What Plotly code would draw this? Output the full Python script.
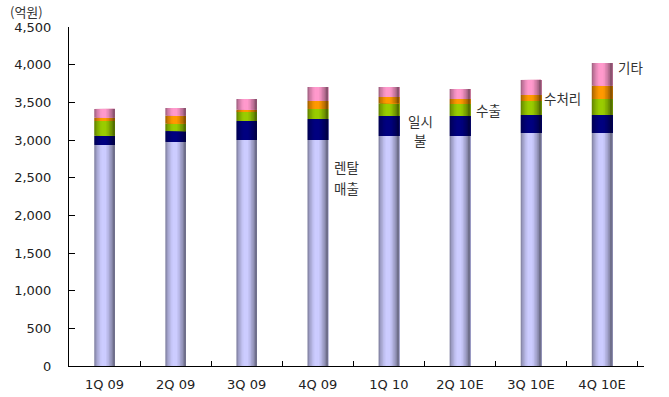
import plotly.graph_objects as go

# Quarterly revenue breakdown (unit: 100M KRW)
quarters = ["1Q 09", "2Q 09", "3Q 09", "4Q 09", "1Q 10", "2Q 10E", "3Q 10E", "4Q 10E"]
rental = [2934, 2974, 3000, 3000, 3053, 3053, 3093, 3093]
lump_sum = [123, 145, 252, 279, 266, 266, 239, 239]
export = [195, 98, 124, 133, 168, 159, 186, 212]
water = [44, 106, 26, 106, 84, 66, 80, 177]
others = [116, 102, 142, 186, 133, 133, 199, 301]

series = [
    ("렌탈매출", rental, (204, 204, 255)),
    ("일시불", lump_sum, (0, 0, 128)),
    ("수출", export, (153, 204, 0)),
    ("수처리", water, (255, 153, 0)),
    ("기타", others, (255, 153, 204)),
]

BAR_W = 0.29      # bar width in category units
N_STRIPS = 14     # vertical strips used to shade each bar like a cylinder


def shade(t):
    """Brightness factor across the bar width (0 = left edge, 1 = right edge)."""
    if t < 0.35:
        return 0.55 + 0.45 * (t / 0.35) ** 0.6
    if t < 0.55:
        return 1.0
    return 1.0 - 0.5 * ((t - 0.55) / 0.45) ** 1.2


def rgb(c, f):
    return "rgb({},{},{})".format(*[int(round(v * f)) for v in c])


fig = go.Figure()
bases = [0] * len(quarters)
for name, vals, col in series:
    for i in range(N_STRIPS):
        t = (i + 0.5) / N_STRIPS
        fig.add_trace(go.Bar(
            x=quarters,
            y=vals,
            base=bases,
            width=BAR_W - i * BAR_W / N_STRIPS,
            offset=-BAR_W / 2 + i * BAR_W / N_STRIPS,
            marker=dict(color=rgb(col, shade(t)), line=dict(width=0)),
            name=name,
            showlegend=False,
            hoverinfo="skip",
        ))
    bases = [b + v for b, v in zip(bases, vals)]

font_k = dict(family="Noto Sans CJK KR, sans-serif", size=13.5, color="#333333")

# Segment labels placed beside the bars (one annotation per text line)
annotations = [
    dict(x=3.22, y=2640, text="렌탈", xanchor="left"),
    dict(x=3.22, y=2365, text="매출", xanchor="left"),
    dict(x=4.44, y=3258, text="일시", xanchor="center"),
    dict(x=4.44, y=2995, text="불", xanchor="center"),
    dict(x=5.40, y=3398, text="수출", xanchor="center"),
    dict(x=6.44, y=3562, text="수처리", xanchor="center"),
    dict(x=7.40, y=3967, text="기타", xanchor="center"),
]
for a in annotations:
    fig.add_annotation(xref="x", yref="y", showarrow=False, yanchor="middle",
                       borderpad=0, font=font_k, **a)

fig.add_annotation(xref="paper", yref="paper", x=-0.105, y=1.047,
                   xanchor="left", yanchor="middle", showarrow=False,
                   borderpad=0, text="(억원)", font=dict(font_k, size=13))

fig.update_layout(
    width=669, height=397,
    margin=dict(l=69, r=25, t=27, b=31),
    barmode="overlay",
    plot_bgcolor="white",
    paper_bgcolor="white",
    font=dict(family="DejaVu Sans, sans-serif", size=13, color="#222222"),
    xaxis=dict(
        type="category",
        showline=True, linecolor="#000000", linewidth=1,
        ticks="inside", tickson="boundaries", ticklen=5, tickcolor="#000000",
        ticklabelstandoff=6,
        showgrid=False, automargin=False,
    ),
    yaxis=dict(
        range=[0, 4500], dtick=500, tickformat=",",
        showline=True, linecolor="#000000", linewidth=1,
        ticks="inside", ticklen=6, tickcolor="#000000",
        ticklabelstandoff=14,
        showgrid=False, zeroline=False, automargin=False,
    ),
)

fig.write_html("out.html")
